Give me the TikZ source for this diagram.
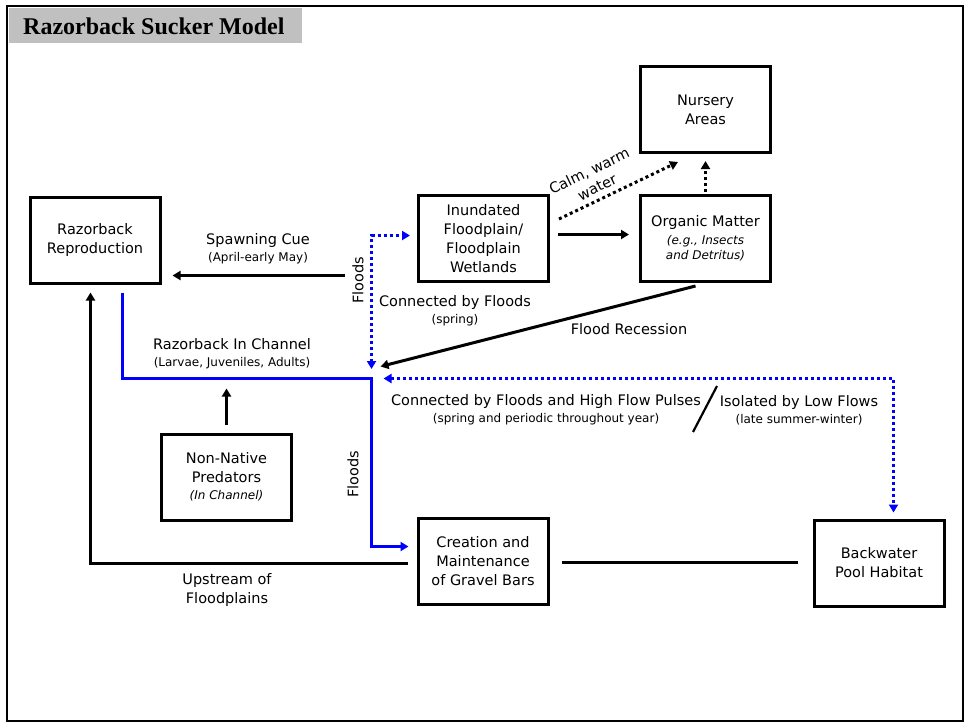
\documentclass[tikz,border=0pt]{standalone}
\usepackage{fontspec}
\setmainfont{DejaVu Sans}
\newfontfamily\titlefont{Liberation Serif}
\usepackage{xcolor}
\usetikzlibrary{positioning, arrows.meta}

\definecolor{titlegray}{RGB}{192,192,192}
\newcommand{\subnote}{\fontsize{12}{15}\selectfont}
\newcommand{\itnote}{\fontsize{12}{15}\selectfont\itshape}

\begin{document}
\begin{tikzpicture}[x=1pt, y=-1pt]
	
	\tikzset{model box/.style={
			draw,
			line width=3pt,
			minimum width=#1,
			minimum height=86pt,
			align=center,
			inner sep=0pt,
			font=\fontsize{14.5}{19}\selectfont
		},
		model box/.default=130pt,
		note/.style={align=center, inner sep=0pt, font=\fontsize{14.5}{19}\selectfont},
		flow arrow/.style={line width=3pt, -{Triangle[length=8pt,width=9pt]}},
		plain line/.style={line width=3pt},
		channel line/.style={blue, line width=3pt, -{Triangle[length=8pt,width=9pt]}},
		flood dots/.style={blue, line width=3pt, dash pattern=on 3pt off 3pt,
			{Triangle[length=8pt,width=9pt]}-{Triangle[length=8pt,width=9pt]}},
		food dots/.style={line width=3pt, dash pattern=on 3pt off 3pt,
			-{Triangle[length=8pt,width=9pt]}}
	}
	
	\useasboundingbox (0,0) rectangle (968,723);
	\draw[line width=2.5pt] (7,6) rectangle (963,721);
	\fill[titlegray] (8.5,8) rectangle (302,43);
	\node[anchor=base west, inner sep=0pt, font=\titlefont\bfseries\fontsize{24}{28}\selectfont] (title) at (23,34) {Razorback Sucker Model};
	
	% boxes
	\node[model box] (repro) at (95,240) {Razorback\\Reproduction};
	\node[model box] (flood) at (483.5,238.5) {Inundated\\Floodplain/\\Floodplain\\Wetlands};
	\node[model box, right=89pt of flood] (organic) {Organic Matter\\[-1pt]{\itnote (e.g., Insects}\\[-4pt]{\itnote and Detritus)}};
	\node[model box, above=40pt of organic] (nursery) {Nursery\\Areas};
	\node[model box] (predators) at (226.5,477) {Non-Native\\Predators\\[-2pt]{\itnote (In Channel)}};
	\node[model box] (gravel) at (483,561) {Creation and\\Maintenance\\of Gravel Bars};
	\node[model box] (backwater) at (879,563) {Backwater\\Pool Habitat};
	
	\coordinate (cue start) at (345,275.5);
	\coordinate (fork top) at (371.5,235.5);
	\coordinate (fork low) at (371.5,369);
	\coordinate (channel) at (371.5,378.5);
	\coordinate (pool corner) at (893.5,378.5);
	
	% connectors
	\draw[flow arrow, shorten >=11pt] (cue start) -- (cue start -| repro.east);
	\draw[flood dots, shorten >=7pt] (fork low) -- (fork top) -- (fork top -| flood.west);
	\draw[channel line, shorten <=8pt, shorten >=8pt] ([xshift=27.5pt]repro.south) |- (channel) |- ([yshift=14.5pt]gravel.west);
	\draw[flood dots, shorten >=6pt] ([xshift=12pt]channel) -- (pool corner) -- (pool corner |- backwater.north);
	\draw[flow arrow] ([xshift=-10pt,yshift=-3pt]organic.south) -- ([xshift=9pt,yshift=12pt]channel);
	\draw[flow arrow, shorten <=9pt, shorten >=8pt] ([yshift=-2.5pt]gravel.west) -| ([xshift=-4.5pt]repro.south);
	\draw[plain line, shorten <=12pt, shorten >=15pt] ([yshift=-1.5pt]gravel.east) -- ([yshift=-1.5pt]gravel.east -| backwater.west);
	\draw[flow arrow, shorten <=8pt, shorten >=10pt] (predators.north) -- (predators.north |- channel);
	\draw[flow arrow, shorten <=8pt, shorten >=10pt] ([yshift=4pt]flood.east) -- ([yshift=4pt]organic.west);
	\draw[food dots, shorten <=2pt, shorten >=7pt] (organic.north) -- (organic.north |- nursery.south);
	\draw[food dots] ([xshift=9pt,yshift=-25pt]flood.north east) -- ([xshift=39pt,yshift=-8pt]nursery.south west);
	\draw[line width=2.2pt] (717,386) -- (693,432);
	
	% labels
	\node[note] (cue label) at (258,249) {Spawning Cue\\[-2pt]{\subnote (April-early May)}};
	\node[note, rotate=26] (calm label) at (593,179) {Calm, warm\\[-1pt]water};
	\node[note, rotate=90] (floods upper) at (358,280) {Floods};
	\node[note, rotate=90] (floods lower) at (353,474) {Floods};
	\node[note] (link label) at (455,311) {Connected by Floods\\[-2pt]{\subnote (spring)}};
	\node[note] (recession label) at (629,329) {Flood Recession};
	\node[note] (channel label) at (232,354) {Razorback In Channel\\[-2pt]{\subnote (Larvae, Juveniles, Adults)}};
	\node[note] (pulse label) at (546,410) {Connected by Floods and High Flow Pulses\\[-2pt]{\subnote (spring and periodic throughout year)}};
	\node[note] (isolated label) at (799,410) {Isolated by Low Flows\\[-2pt]{\subnote (late summer-winter)}};
	\node[note] (upstream label) at (227,590) {Upstream of\\Floodplains};
	
\end{tikzpicture}
\end{document}
